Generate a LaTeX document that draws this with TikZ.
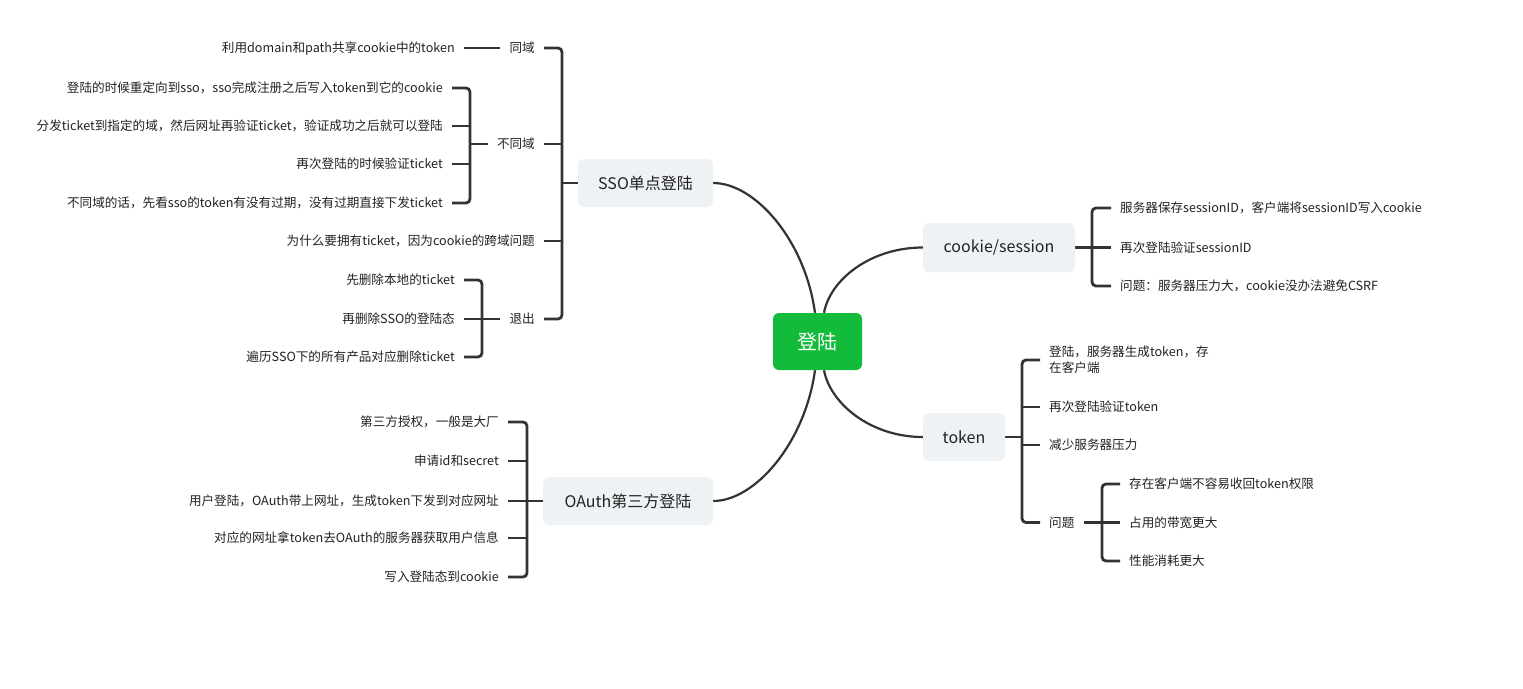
\documentclass[tikz,border=0pt]{standalone}
\usepackage{fontspec}
\setmainfont{Noto Sans CJK SC}
\usetikzlibrary{backgrounds}
\definecolor{ln}{HTML}{333333}
\definecolor{txt}{HTML}{222222}
\definecolor{boxbg}{HTML}{EFF2F5}
\definecolor{rootg}{HTML}{12BB3A}
\begin{document}
\begin{tikzpicture}[x=1pt,y=-1pt,
  every node/.style={font=\fontsize{12.6}{16}\selectfont, text=txt},
  lbl/.style={inner xsep=9pt, inner ysep=0pt, text height=11pt, text depth=1.5pt},
  mainbox/.style={fill=boxbg, rounded corners=6pt, minimum height=48pt, inner sep=0pt, font=\fontsize{16}{19}\selectfont},
  curve/.style={draw=ln, line width=2.2pt},
  br/.style={draw=ln, line width=2.8pt, rounded corners=4pt},
]
\useasboundingbox (0,0) rectangle (1523,688);

% main nodes
\node[fill=rootg, rounded corners=6pt, minimum width=89pt, minimum height=57pt, inner sep=0pt, text=white, font=\fontsize{20}{24}\selectfont] (root) at (817.5,341.5) {登陆};
\node[mainbox, minimum width=135pt] (sso) at (645.5,183) {SSO单点登陆};
\node[mainbox, minimum width=170pt] (oauth) at (628,501) {OAuth第三方登陆};
\node[mainbox, minimum width=152pt, minimum height=49pt] (cookie) at (999,247.5) {cookie/session};
\node[mainbox, minimum width=82pt] (token) at (964,437) {token};

% SSO branch
\node[lbl, anchor=east] (d1) at (464,48) {利用domain和path共享cookie中的token};
\node[lbl, anchor=east] (tongyu) at (544,48) {同域};
\node[lbl, anchor=east] (b1) at (452,88) {登陆的时候重定向到sso，sso完成注册之后写入token到它的cookie};
\node[lbl, anchor=east] (b2) at (452,126) {分发ticket到指定的域，然后网址再验证ticket，验证成功之后就可以登陆};
\node[lbl, anchor=east] (b3) at (452,164) {再次登陆的时候验证ticket};
\node[lbl, anchor=east] (b4) at (452,203) {不同域的话，先看sso的token有没有过期，没有过期直接下发ticket};
\node[lbl, anchor=east] (butongyu) at (544,144) {不同域};
\node[lbl, anchor=east] (why) at (544,241) {为什么要拥有ticket，因为cookie的跨域问题};
\node[lbl, anchor=east] (tuichu) at (544,319) {退出};
\node[lbl, anchor=east] (t1) at (464,280) {先删除本地的ticket};
\node[lbl, anchor=east] (t2) at (464,319) {再删除SSO的登陆态};
\node[lbl, anchor=east] (t3) at (464,357) {遍历SSO下的所有产品对应删除ticket};

% OAuth branch
\node[lbl, anchor=east] (o1) at (508,422) {第三方授权，一般是大厂};
\node[lbl, anchor=east] (o2) at (508,461) {申请id和secret};
\node[lbl, anchor=east] (o3) at (508,501) {用户登陆，OAuth带上网址，生成token下发到对应网址};
\node[lbl, anchor=east] (o4) at (508,538) {对应的网址拿token去OAuth的服务器获取用户信息};
\node[lbl, anchor=east] (o5) at (508,577) {写入登陆态到cookie};

% cookie branch
\node[lbl, anchor=west] (c1) at (1111,208) {服务器保存sessionID，客户端将sessionID写入cookie};
\node[lbl, anchor=west] (c2) at (1111,247.5) {再次登陆验证sessionID};
\node[lbl, anchor=west] (c3) at (1111,286) {问题：服务器压力大，cookie没办法避免CSRF};

% token branch
\node[inner xsep=9pt, inner ysep=0pt, align=left, anchor=west] (k1) at (1040,360) {登陆，服务器生成token，存\\在客户端};
\node[lbl, anchor=west] (k2) at (1040,407) {再次登陆验证token};
\node[lbl, anchor=west] (k3) at (1040,445) {减少服务器压力};
\node[lbl, anchor=west] (k4) at (1040,522.5) {问题};
\node[lbl, anchor=west] (q1) at (1120,484) {存在客户端不容易收回token权限};
\node[lbl, anchor=west] (q2) at (1120,522.5) {占用的带宽更大};
\node[lbl, anchor=west] (q3) at (1120,561) {性能消耗更大};

\coordinate (ssoB) at (562,183);
\coordinate (bB) at (470,144);
\coordinate (tB) at (482,319);
\coordinate (oB) at (527,501);
\coordinate (cB) at (1092,247.5);
\coordinate (kB) at (1022,437);
\coordinate (qB) at (1102,522.5);

\begin{scope}[on background layer]
\fill[white] (0,0) rectangle (1523,688);
% curves
\draw[curve] ([xshift=-2.5pt]root.north) .. controls (805,240) and (755,183) .. (sso.east);
\draw[curve] ([xshift=-2.5pt]root.south) .. controls (805,443) and (755,501) .. (oauth.east);
\draw[curve] ([xshift=6.5pt]root.north) .. controls (830,280) and (870,247.5) .. (cookie.west);
\draw[curve] ([xshift=6.5pt]root.south) .. controls (830,403) and (870,437) .. (token.west);

% SSO brackets
\draw[br] (sso.west) -- (ssoB);
\draw[br] (tongyu.east) -| (ssoB) |- (tuichu.east);
\draw[br] (butongyu.east) -- (butongyu.east -| ssoB);
\draw[br] (why.east) -- (why.east -| ssoB);
\draw[br] (d1.east) -- (tongyu.west);
\draw[br] (b1.east) -| (bB) |- (b4.east);
\draw[br] (b2.east) -- (b2.east -| bB);
\draw[br] (b3.east) -- (b3.east -| bB);
\draw[br] (bB) -- (butongyu.west);
\draw[br] (t1.east) -| (tB) |- (t3.east);
\draw[br] (t2.east) -- (tuichu.west);

% OAuth brackets
\draw[br] (o1.east) -| (oB) |- (o5.east);
\draw[br] (o2.east) -- (o2.east -| oB);
\draw[br] (o4.east) -- (o4.east -| oB);
\draw[br] (o3.east) -- (oauth.west);

% cookie brackets
\draw[br] (c1.west) -| (cB) |- (c3.west);
\draw[br] (c2.west) -- (cookie.east);

% token brackets
\draw[br] (token.east) -- (kB);
\draw[br] (k1.west) -| (kB) |- (k4.west);
\draw[br] (k2.west) -- (k2.west -| kB);
\draw[br] (k3.west) -- (k3.west -| kB);
\draw[br] (q1.west) -| (qB) |- (q3.west);
\draw[br] (k4.east) -- (q2.west);
\end{scope}
\end{tikzpicture}
\end{document}
